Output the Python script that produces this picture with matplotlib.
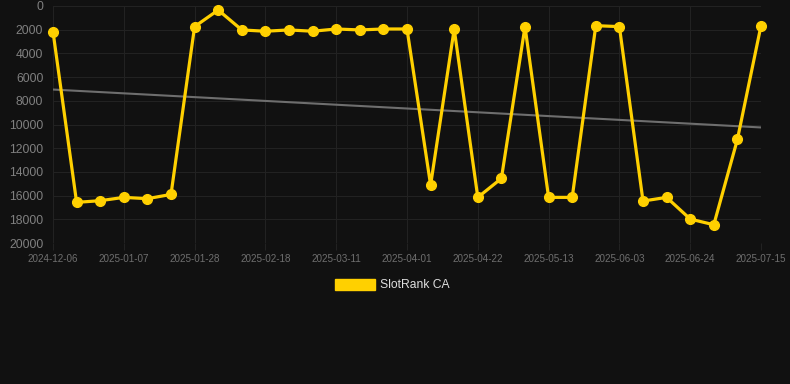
import matplotlib
matplotlib.use("Agg")
import matplotlib.pyplot as plt
import numpy as np
from matplotlib.patches import Patch

plt.rcParams["font.family"] = ["Liberation Sans", "DejaVu Sans"]

dates = ["2024-12-06", "2024-12-17", "2024-12-27", "2025-01-07", "2025-01-14", "2025-01-21",
         "2025-01-28", "2025-02-04", "2025-02-11", "2025-02-18", "2025-02-25", "2025-03-04",
         "2025-03-11", "2025-03-18", "2025-03-25", "2025-04-01", "2025-04-08", "2025-04-15",
         "2025-04-22", "2025-04-29", "2025-05-06", "2025-05-13", "2025-05-20", "2025-05-27",
         "2025-06-03", "2025-06-10", "2025-06-17", "2025-06-24", "2025-07-01", "2025-07-08",
         "2025-07-15"]
rank = [2160, 16570, 16430, 16150, 16260, 15900, 1740, 340, 2020, 2130, 2020, 2130,
        1940, 2020, 1940, 1940, 15110, 1940, 16150, 14550, 1740, 16150, 16150, 1660,
        1740, 16460, 16150, 17980, 18460, 11260, 1660]
trend_start, trend_end = 7050, 10250
series_name = "SlotRank CA"
y_ticks = list(range(0, 20001, 2000))

bg = "#111111"
yellow = "#FFD000"
grid_c = "#222222"
tick_c = "#808080"

fig = plt.figure(figsize=(7.9, 3.84), dpi=100, facecolor=bg)
ax = fig.add_axes([53/790, 1-243/384, 708/790, 237/384], facecolor=bg)

x = np.arange(len(dates))
ax.plot([x[0], x[-1]], [trend_start, trend_end], color="#6e6e6e", lw=1.5, zorder=2)
ax.plot(x, rank, color=yellow, lw=2.3, marker="o", markersize=7, zorder=3,
        clip_on=False, solid_joinstyle="miter", label=series_name)

ax.set_xlim(0, len(dates)-1)
ax.set_ylim(20000, 0)
ax.set_yticks(y_ticks)
ax.set_yticklabels([str(v) for v in y_ticks])
ax.set_xticks(x[::3])
ax.set_xticklabels(dates[::3])
ax.grid(True, color=grid_c, lw=0.8)
ax.set_axisbelow(True)
for s in ax.spines.values():
    s.set_visible(False)
ax.tick_params(axis="y", length=0, pad=7, labelsize=8.7, labelcolor=tick_c)
ax.tick_params(axis="x", length=5, color=grid_c, pad=3, labelsize=7.1, labelcolor="#6f6f6f")

leg = fig.legend(handles=[Patch(facecolor=yellow, edgecolor=yellow)], labels=[series_name],
                 loc="center", bbox_to_anchor=(0.4965, 1-285/384), frameon=False,
                 handlelength=3.3, handleheight=1.0, handletextpad=0.4, fontsize=8.7)
for t in leg.get_texts():
    t.set_color("#dddddd")

fig.savefig("out.png", dpi=100, facecolor=bg)
